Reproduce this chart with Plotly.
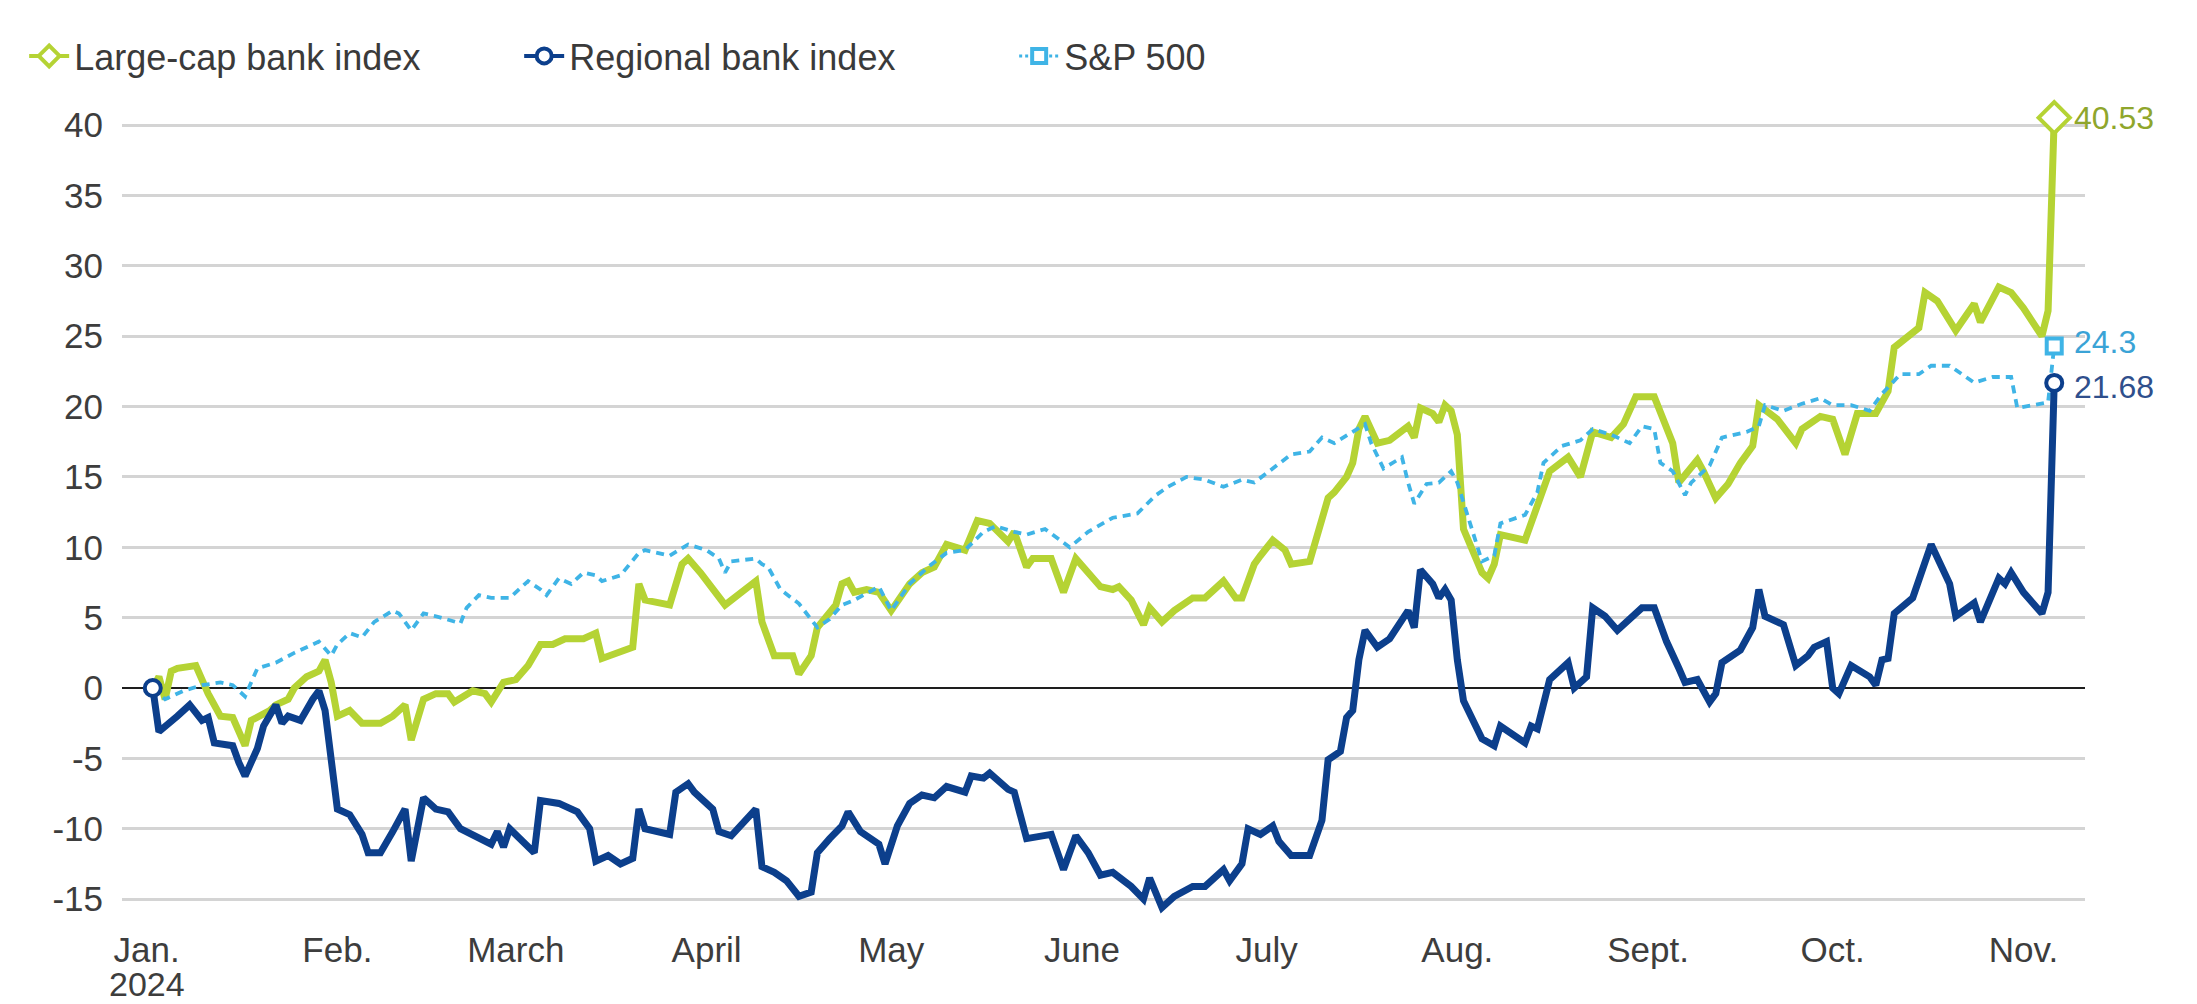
import plotly.graph_objects as go

# ---- Cumulative performance since Jan. 2, 2024 (percent) ----

large_dates = [
    "2024-01-02", "2024-01-03", "2024-01-04", "2024-01-05", "2024-01-06", "2024-01-09",
    "2024-01-11", "2024-01-13", "2024-01-15", "2024-01-17", "2024-01-18", "2024-01-21",
    "2024-01-22", "2024-01-24", "2024-01-25", "2024-01-27", "2024-01-29", "2024-01-30",
    "2024-01-31", "2024-02-01", "2024-02-03", "2024-02-05", "2024-02-08", "2024-02-10",
    "2024-02-12", "2024-02-13", "2024-02-15", "2024-02-17", "2024-02-19", "2024-02-20",
    "2024-02-23", "2024-02-25", "2024-02-26", "2024-02-28", "2024-03-01", "2024-03-03",
    "2024-03-05", "2024-03-07", "2024-03-09", "2024-03-12", "2024-03-14", "2024-03-15",
    "2024-03-20", "2024-03-21", "2024-03-22", "2024-03-26", "2024-03-28", "2024-03-29",
    "2024-03-31", "2024-04-02", "2024-04-04", "2024-04-09", "2024-04-10", "2024-04-12",
    "2024-04-15", "2024-04-16", "2024-04-18", "2024-04-19", "2024-04-22", "2024-04-23",
    "2024-04-24", "2024-04-25", "2024-04-27", "2024-04-29", "2024-05-01", "2024-05-04",
    "2024-05-06", "2024-05-08", "2024-05-10", "2024-05-13", "2024-05-15", "2024-05-17",
    "2024-05-20", "2024-05-21", "2024-05-23", "2024-05-24", "2024-05-27", "2024-05-29",
    "2024-05-31", "2024-06-04", "2024-06-06", "2024-06-07", "2024-06-09", "2024-06-11",
    "2024-06-12", "2024-06-14", "2024-06-16", "2024-06-19", "2024-06-21", "2024-06-24",
    "2024-06-26", "2024-06-27", "2024-06-29", "2024-06-30", "2024-07-02", "2024-07-04",
    "2024-07-05", "2024-07-08", "2024-07-10", "2024-07-11", "2024-07-12", "2024-07-14",
    "2024-07-15", "2024-07-16", "2024-07-17", "2024-07-19", "2024-07-21", "2024-07-23",
    "2024-07-24", "2024-07-25", "2024-07-26", "2024-07-28", "2024-07-29", "2024-07-30",
    "2024-07-31", "2024-08-01", "2024-08-02", "2024-08-05", "2024-08-06", "2024-08-07",
    "2024-08-08", "2024-08-12", "2024-08-14", "2024-08-16", "2024-08-19", "2024-08-21",
    "2024-08-23", "2024-08-26", "2024-08-28", "2024-08-30", "2024-09-02", "2024-09-04",
    "2024-09-05", "2024-09-06", "2024-09-09", "2024-09-10", "2024-09-12", "2024-09-14",
    "2024-09-16", "2024-09-18", "2024-09-19", "2024-09-22", "2024-09-25", "2024-09-26",
    "2024-09-29", "2024-10-01", "2024-10-03", "2024-10-05", "2024-10-08", "2024-10-10",
    "2024-10-11", "2024-10-15", "2024-10-16", "2024-10-18", "2024-10-21", "2024-10-24",
    "2024-10-25", "2024-10-28", "2024-10-30", "2024-11-01", "2024-11-04", "2024-11-05",
    "2024-11-06",
]
large_values = [
    0.0, 0.8, -0.8, 1.2, 1.4, 1.6,
    -0.4, -2.0, -2.1, -4.1, -2.3, -1.6,
    -1.2, -0.8, 0.0, 0.8, 1.2, 2.0,
    0.4, -2.0, -1.6, -2.5, -2.5, -2.0,
    -1.2, -3.7, -0.8, -0.4, -0.4, -1.0,
    -0.2, -0.4, -1.0, 0.4, 0.6, 1.6,
    3.1, 3.1, 3.5, 3.5, 3.9, 2.1,
    2.9, 7.4, 6.25, 5.9, 8.8, 9.2,
    8.2, 7.0, 5.9, 7.6, 4.7, 2.3,
    2.3, 1.0, 2.3, 4.3, 5.9, 7.4,
    7.6, 6.8, 7.0, 6.8, 5.5, 7.4,
    8.2, 8.6, 10.2, 9.8, 11.9, 11.7,
    10.4, 11.1, 8.6, 9.2, 9.2, 6.8,
    9.2, 7.2, 7.0, 7.2, 6.25, 4.5,
    5.7, 4.7, 5.5, 6.4, 6.4, 7.6,
    6.4, 6.4, 8.8, 9.4, 10.5, 9.8,
    8.8, 9.0, 12.1, 13.5, 13.9, 15.0,
    16.0, 18.4, 19.3, 17.4, 17.6, 18.2,
    18.6, 17.8, 19.9, 19.5, 18.9, 20.1,
    19.7, 18.0, 11.3, 8.2, 7.8, 8.8,
    10.9, 10.5, 13.1, 15.4, 16.4, 15.0,
    18.2, 17.8, 18.75, 20.7, 20.7, 18.4,
    17.4, 14.6, 16.2, 15.4, 13.5, 14.5,
    16.0, 17.2, 20.1, 19.1, 17.4, 18.4,
    19.3, 19.1, 16.6, 19.5, 19.5, 21.1,
    24.2, 25.6, 28.1, 27.5, 25.4, 27.3,
    26.0, 28.5, 28.1, 27.0, 25.0, 26.8,
    40.53,
]

regional_dates = [
    "2024-01-02", "2024-01-03", "2024-01-06", "2024-01-08", "2024-01-10", "2024-01-11",
    "2024-01-12", "2024-01-15", "2024-01-16", "2024-01-17", "2024-01-19", "2024-01-20",
    "2024-01-22", "2024-01-23", "2024-01-24", "2024-01-26", "2024-01-28", "2024-01-29",
    "2024-01-30", "2024-01-31", "2024-02-01", "2024-02-03", "2024-02-05", "2024-02-06",
    "2024-02-08", "2024-02-10", "2024-02-12", "2024-02-13", "2024-02-15", "2024-02-17",
    "2024-02-19", "2024-02-21", "2024-02-23", "2024-02-26", "2024-02-27", "2024-02-28",
    "2024-02-29", "2024-03-02", "2024-03-04", "2024-03-05", "2024-03-08", "2024-03-11",
    "2024-03-13", "2024-03-14", "2024-03-16", "2024-03-18", "2024-03-20", "2024-03-21",
    "2024-03-22", "2024-03-26", "2024-03-27", "2024-03-29", "2024-03-30", "2024-04-02",
    "2024-04-03", "2024-04-05", "2024-04-09", "2024-04-10", "2024-04-12", "2024-04-14",
    "2024-04-16", "2024-04-18", "2024-04-19", "2024-04-21", "2024-04-23", "2024-04-24",
    "2024-04-26", "2024-04-29", "2024-04-30", "2024-05-02", "2024-05-04", "2024-05-06",
    "2024-05-08", "2024-05-10", "2024-05-13", "2024-05-14", "2024-05-16", "2024-05-17",
    "2024-05-20", "2024-05-21", "2024-05-23", "2024-05-27", "2024-05-29", "2024-05-31",
    "2024-06-02", "2024-06-04", "2024-06-06", "2024-06-09", "2024-06-11", "2024-06-12",
    "2024-06-14", "2024-06-16", "2024-06-19", "2024-06-21", "2024-06-24", "2024-06-25",
    "2024-06-27", "2024-06-28", "2024-06-30", "2024-07-02", "2024-07-03", "2024-07-05",
    "2024-07-08", "2024-07-10", "2024-07-11", "2024-07-13", "2024-07-14", "2024-07-15",
    "2024-07-16", "2024-07-17", "2024-07-19", "2024-07-21", "2024-07-23", "2024-07-24",
    "2024-07-25", "2024-07-26", "2024-07-28", "2024-07-29", "2024-07-30", "2024-07-31",
    "2024-08-01", "2024-08-02", "2024-08-05", "2024-08-07", "2024-08-08", "2024-08-10",
    "2024-08-12", "2024-08-13", "2024-08-14", "2024-08-16", "2024-08-19", "2024-08-20",
    "2024-08-22", "2024-08-23", "2024-08-25", "2024-08-27", "2024-08-29", "2024-08-31",
    "2024-09-02", "2024-09-04", "2024-09-06", "2024-09-07", "2024-09-09", "2024-09-11",
    "2024-09-12", "2024-09-13", "2024-09-16", "2024-09-18", "2024-09-19", "2024-09-20",
    "2024-09-23", "2024-09-25", "2024-09-27", "2024-09-28", "2024-09-30", "2024-10-01",
    "2024-10-02", "2024-10-04", "2024-10-07", "2024-10-08", "2024-10-09", "2024-10-10",
    "2024-10-11", "2024-10-14", "2024-10-17", "2024-10-20", "2024-10-21", "2024-10-24",
    "2024-10-25", "2024-10-28", "2024-10-29", "2024-10-30", "2024-11-01", "2024-11-04",
    "2024-11-05", "2024-11-06",
]
regional_values = [
    0.0, -3.1, -2.0, -1.2, -2.3, -2.1,
    -3.9, -4.1, -5.3, -6.25, -4.3, -2.7,
    -1.2, -2.5, -2.0, -2.3, -0.8, -0.2,
    -1.6, -5.5, -8.6, -9.0, -10.4, -11.7,
    -11.7, -10.2, -8.6, -12.3, -7.8, -8.6,
    -8.8, -10.0, -10.4, -11.1, -10.2, -11.3,
    -10.0, -10.9, -11.7, -8.0, -8.2, -8.8,
    -10.0, -12.3, -11.9, -12.5, -12.1, -8.6,
    -10.0, -10.4, -7.4, -6.8, -7.4, -8.6,
    -10.2, -10.5, -8.6, -12.7, -13.1, -13.7,
    -14.8, -14.5, -11.7, -10.7, -9.8, -8.8,
    -10.2, -11.1, -12.5, -9.8, -8.2, -7.6,
    -7.8, -7.0, -7.4, -6.25, -6.4, -6.05,
    -7.2, -7.4, -10.7, -10.4, -12.9, -10.5,
    -11.7, -13.3, -13.1, -14.1, -15.0, -13.5,
    -15.6, -14.8, -14.1, -14.1, -12.9, -13.7,
    -12.5, -10.0, -10.4, -9.8, -10.9, -11.9,
    -11.9, -9.4, -5.1, -4.5, -2.1, -1.6,
    2.0, 4.1, 2.9, 3.5, 4.7, 5.5,
    4.3, 8.4, 7.4, 6.4, 7.0, 6.25,
    2.0, -0.9, -3.6, -4.1, -2.7, -3.3,
    -3.9, -2.7, -2.9, 0.6, 1.8, 0.0,
    0.8, 5.7, 5.1, 4.1, 4.9, 5.7,
    5.7, 3.3, 1.4, 0.4, 0.6, -1.0,
    -0.4, 1.8, 2.7, 4.3, 7.0, 5.1,
    4.5, 1.6, 2.3, 2.9, 3.3, 0.0,
    -0.4, 1.6, 0.8, 0.2, 2.0, 2.1,
    5.3, 6.4, 10.2, 7.4, 5.1, 6.05,
    4.7, 7.8, 7.4, 8.2, 6.8, 5.3,
    6.8, 21.68,
]

sp500_dates = [
    "2024-01-02", "2024-01-04", "2024-01-07", "2024-01-10", "2024-01-13", "2024-01-15",
    "2024-01-17", "2024-01-19", "2024-01-22", "2024-01-25", "2024-01-29", "2024-01-31",
    "2024-02-01", "2024-02-03", "2024-02-05", "2024-02-07", "2024-02-10", "2024-02-11",
    "2024-02-13", "2024-02-15", "2024-02-17", "2024-02-20", "2024-02-21", "2024-02-22",
    "2024-02-24", "2024-02-26", "2024-02-29", "2024-03-03", "2024-03-05", "2024-03-06",
    "2024-03-08", "2024-03-10", "2024-03-12", "2024-03-14", "2024-03-15", "2024-03-18",
    "2024-03-21", "2024-03-22", "2024-03-26", "2024-03-29", "2024-04-01", "2024-04-03",
    "2024-04-04", "2024-04-05", "2024-04-09", "2024-04-10", "2024-04-11", "2024-04-13",
    "2024-04-16", "2024-04-19", "2024-04-21", "2024-04-23", "2024-04-25", "2024-04-29",
    "2024-05-01", "2024-05-04", "2024-05-07", "2024-05-10", "2024-05-13", "2024-05-16",
    "2024-05-18", "2024-05-21", "2024-05-23", "2024-05-26", "2024-05-30", "2024-06-02",
    "2024-06-06", "2024-06-10", "2024-06-13", "2024-06-15", "2024-06-18", "2024-06-21",
    "2024-06-24", "2024-06-27", "2024-06-29", "2024-07-02", "2024-07-05", "2024-07-08",
    "2024-07-10", "2024-07-12", "2024-07-15", "2024-07-17", "2024-07-18", "2024-07-20",
    "2024-07-23", "2024-07-24", "2024-07-25", "2024-07-27", "2024-07-29", "2024-07-31",
    "2024-08-01", "2024-08-03", "2024-08-05", "2024-08-07", "2024-08-08", "2024-08-12",
    "2024-08-14", "2024-08-15", "2024-08-18", "2024-08-21", "2024-08-23", "2024-08-26",
    "2024-08-29", "2024-08-31", "2024-09-02", "2024-09-03", "2024-09-05", "2024-09-07",
    "2024-09-08", "2024-09-11", "2024-09-13", "2024-09-17", "2024-09-19", "2024-09-20",
    "2024-09-23", "2024-09-26", "2024-09-29", "2024-10-01", "2024-10-04", "2024-10-07",
    "2024-10-09", "2024-10-12", "2024-10-15", "2024-10-17", "2024-10-20", "2024-10-22",
    "2024-10-24", "2024-10-27", "2024-10-30", "2024-10-31", "2024-11-03", "2024-11-05",
    "2024-11-06",
]
sp500_values = [
    0.0, -0.8, -0.2, 0.2, 0.4, 0.2,
    -0.6, 1.4, 1.8, 2.5, 3.3, 2.3,
    3.1, 3.9, 3.6, 4.7, 5.5, 5.3,
    4.1, 5.3, 5.1, 4.7, 4.6, 5.7,
    6.6, 6.4, 6.4, 7.6, 7.0, 6.6,
    7.8, 7.4, 8.2, 8.0, 7.6, 8.0,
    9.6, 9.8, 9.4, 10.2, 9.8, 9.2,
    8.2, 9.0, 9.2, 8.8, 8.6, 7.0,
    6.0, 4.3, 4.9, 5.9, 6.25, 7.2,
    5.5, 7.4, 8.6, 9.6, 9.8, 11.1,
    11.5, 11.1, 10.9, 11.3, 10.0, 11.1,
    12.1, 12.4, 13.7, 14.3, 15.0, 14.8,
    14.3, 14.8, 14.6, 15.6, 16.6, 16.8,
    17.8, 17.4, 18.2, 18.75, 17.4, 15.6,
    16.4, 14.6, 13.1, 14.5, 14.6, 15.4,
    14.6, 11.7, 9.0, 9.4, 11.7, 12.3,
    13.9, 16.0, 17.2, 17.6, 18.4, 18.0,
    17.4, 18.6, 18.4, 16.0, 15.4, 13.7,
    14.6, 15.8, 17.8, 18.2, 18.6, 20.1,
    19.7, 20.2, 20.6, 20.1, 20.1, 19.7,
    20.9, 22.3, 22.3, 22.9, 22.9, 22.3,
    21.7, 22.1, 22.1, 19.9, 20.1, 20.3,
    24.3,
]

series_names = ["Large-cap bank index", "Regional bank index", "S&P 500"]

month_ticks = [
    "2024-01-01", "2024-02-01", "2024-03-01", "2024-04-01", "2024-05-01", "2024-06-01",
    "2024-07-01", "2024-08-01", "2024-09-01", "2024-10-01", "2024-11-01",
]
month_labels = [
    "Jan.", "Feb.", "March", "April", "May", "June",
    "July", "Aug.", "Sept.", "Oct.", "Nov.",
]
year_label = "2024"
y_ticks = [-15, -10, -5, 0, 5, 10, 15, 20, 25, 30, 35, 40]

# ---- Styling ----
LIME = "#B5D334"
NAVY = "#0C3F8C"
SKY = "#3FB4E6"
LIME_TEXT = "#8FA62C"
SKY_TEXT = "#3AA3D6"
NAVY_TEXT = "#2F4F8C"
FONT = "Liberation Sans, Arial, Helvetica, sans-serif"
FS = 35
END_FS = 32

fig = go.Figure()

# Lines (large-cap underneath, regional on top)
fig.add_trace(go.Scatter(
    x=large_dates, y=large_values, mode="lines",
    line=dict(color=LIME, width=7), showlegend=False, hoverinfo="skip",
))
fig.add_trace(go.Scatter(
    x=sp500_dates, y=sp500_values, mode="lines",
    line=dict(color=SKY, width=3.8, dash="8px,6px"), showlegend=False, hoverinfo="skip",
))
fig.add_trace(go.Scatter(
    x=regional_dates, y=regional_values, mode="lines",
    line=dict(color=NAVY, width=7), showlegend=False, hoverinfo="skip",
))

# Start marker
fig.add_trace(go.Scatter(
    x=[regional_dates[0]], y=[regional_values[0]], mode="markers",
    marker=dict(symbol="circle", size=16, color="white", line=dict(color=NAVY, width=4)),
    showlegend=False, hoverinfo="skip", cliponaxis=False,
))

# End markers and value labels (small vertical nudges keep the close pair apart)
end_specs = [
    (large_dates, large_values, "diamond", 24, LIME, LIME_TEXT, 0),
    (sp500_dates, sp500_values, "square", 15, SKY, SKY_TEXT, 4),
    (regional_dates, regional_values, "circle", 16, NAVY, NAVY_TEXT, -4),
]
for dates, vals, sym, size, col, tcol, nudge in end_specs:
    fig.add_trace(go.Scatter(
        x=[dates[-1]], y=[vals[-1]], mode="markers",
        marker=dict(symbol=sym, size=size, color="white", line=dict(color=col, width=4)),
        showlegend=False, hoverinfo="skip", cliponaxis=False,
    ))
    fig.add_annotation(
        x=dates[-1], y=vals[-1], text=f"{vals[-1]:g}", showarrow=False,
        xanchor="left", yanchor="middle", xshift=18, yshift=nudge,
        font=dict(family=FONT, size=END_FS, color=tcol),
    )

# Year under the first month label
fig.add_annotation(
    x=month_ticks[0], y=-0.084, xref="x", yref="paper", text=year_label,
    showarrow=False, xanchor="center", yanchor="middle",
    font=dict(family=FONT, size=FS - 1, color="#3d3d3d"),
)

# Legend entries
legend_specs = [
    (series_names[0], LIME, "solid", 4, "diamond", 22),
    (series_names[1], NAVY, "solid", 4, "circle", 15),
    (series_names[2], SKY, "dot", 3, "square", 14),
]
for name, col, dash, lw, sym, size in legend_specs:
    fig.add_trace(go.Scatter(
        x=[None], y=[None], mode="lines+markers", name=name,
        line=dict(color=col, width=lw, dash=dash),
        marker=dict(symbol=sym, size=size, color="white", line=dict(color=col, width=4)),
    ))

fig.update_layout(
    width=2197, height=1004,
    margin=dict(l=122, r=112, t=104, b=88, autoexpand=False),
    paper_bgcolor="white", plot_bgcolor="white",
    font=dict(family=FONT, size=FS, color="#3d3d3d"),
    showlegend=True,
    legend=dict(
        orientation="h", xref="container", yref="container",
        x=0.011, y=1 - 56 / 1004, xanchor="left", yanchor="middle",
        font=dict(family=FONT, size=FS + 1, color="#3a3a3a"),
        itemwidth=40, entrywidth=440, entrywidthmode="pixels",
        bgcolor="rgba(0,0,0,0)",
    ),
    xaxis=dict(
        type="date", range=["2023-12-28", "2024-11-11"],
        tickmode="array", tickvals=month_ticks, ticktext=month_labels,
        showgrid=False, zeroline=False, showline=False, ticks="",
        ticklabelstandoff=10, tickfont=dict(color="#3d3d3d"), automargin=False,
    ),
    yaxis=dict(
        range=[-16.2, 41.5], tickmode="array", tickvals=y_ticks,
        ticktext=[str(v) for v in y_ticks],
        showgrid=True, gridcolor="#d4d4d4", gridwidth=2.5,
        zeroline=True, zerolinecolor="#1e1e1e", zerolinewidth=2,
        showline=False, ticks="", ticklabelstandoff=18,
        tickfont=dict(color="#3d3d3d"), automargin=False,
    ),
)

fig.write_html("out.html")
